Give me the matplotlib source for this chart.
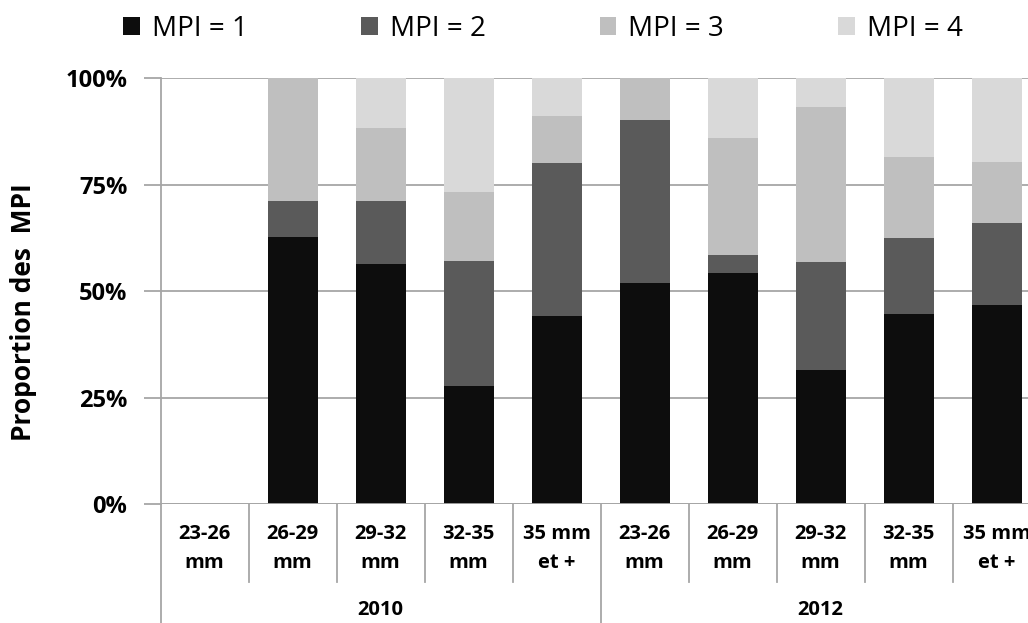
import numpy as np
import matplotlib
matplotlib.use("Agg")
import matplotlib.pyplot as plt
from matplotlib.lines import Line2D
from matplotlib.patches import Patch

plt.rcParams['font.family'] = ['Open Sans', 'DejaVu Sans']

# size classes, two years
classes = ["23-26\nmm", "26-29\nmm", "29-32\nmm", "32-35\nmm", "35 mm\net +",
           "23-26\nmm", "26-29\nmm", "29-32\nmm", "32-35\nmm", "35 mm\net +"]
years = ["2010", "2012"]

# proportions (%)
mpi1 = [0, 62.8, 56.3, 27.7, 44.2, 51.8, 54.3, 31.5, 44.6, 46.7]
mpi2 = [0, 8.3, 14.8, 29.3, 35.8, 38.3, 4.1, 25.3, 17.9, 19.2]
mpi3 = [0, 28.9, 17.3, 16.2, 11.1, 9.9, 27.6, 36.4, 19.0, 14.5]
mpi4 = [0, 0, 11.6, 26.8, 8.9, 0, 14.0, 6.8, 18.5, 19.6]

series = [mpi1, mpi2, mpi3, mpi4]
labels = ["MPI = 1", "MPI = 2", "MPI = 3", "MPI = 4"]
colors = ["#0d0d0d", "#5a5a5a", "#bfbfbf", "#d9d9d9"]
grid_c = "#a6a6a6"

W, H = 1028, 623
fig = plt.figure(figsize=(W / 100, H / 100), dpi=100)
left_px, top_px, bot_px = 160.7, 78.3, 504
ax = fig.add_axes([left_px / W, 1 - bot_px / H, 1 - left_px / W, (bot_px - top_px) / H])

x = np.arange(len(classes))
bottom = np.zeros(len(classes))
for vals, lab, col in zip(series, labels, colors):
    ax.bar(x, vals, width=0.57, bottom=bottom, color=col, label=lab, zorder=3)
    bottom += np.array(vals)

# the chart is cropped on the right, the last class is only partly visible
cat_px = 88.0
ax.set_xlim(-0.5, -0.5 + (W - left_px) / cat_px)
ax.set_ylim(0, 100)
ax.set_yticks([0, 25, 50, 75, 100])
ax.set_yticklabels(["0%", "25%", "50%", "75%", "100%"], fontsize=17, fontweight="bold")
ax.yaxis.grid(True, color=grid_c, linewidth=1.3, zorder=0)
ax.tick_params(axis="y", length=12, width=1.3, color=grid_c, pad=12)
ax.set_xticks([])
for s in ["top", "right", "bottom"]:
    ax.spines[s].set_visible(False)
ax.spines["left"].set_color(grid_c)
ax.spines["left"].set_linewidth(1.3)
ax.axhline(0, color=grid_c, linewidth=1.3, zorder=4)

fig.text(24 / W, 1 - 312 / H, "Proportion des  MPI", rotation=90, ha="center",
         va="center", fontsize=19, fontweight="bold")

# category labels and separators under the axis
trans = ax.get_xaxis_transform()
px_h = (bot_px - top_px)
for i, c in enumerate(classes):
    top_line, bot_line = c.split("\n")
    ax.text(i, -(534 - bot_px) / px_h, top_line, transform=trans, ha="center",
            va="center", fontsize=14.5, fontweight="bold")
    ax.text(i, -(563 - bot_px) / px_h, bot_line, transform=trans, ha="center",
            va="center", fontsize=14.5, fontweight="bold")
for b in np.arange(-0.5, len(classes), 1.0):
    y_end = -(H - bot_px) / px_h if b in (-0.5, 4.5) else -(582 - bot_px) / px_h
    ax.add_line(Line2D([b, b], [0, y_end], transform=trans, color=grid_c,
                       linewidth=1.3, clip_on=False))
for j, yr in enumerate(years):
    ax.text(2 + 5 * j, -(610 - bot_px) / px_h, yr, transform=trans, ha="center",
            va="center", fontsize=14.5, fontweight="bold")

handles = [Patch(facecolor=c) for c in colors]
fig.legend(handles, labels, loc="center left", bbox_to_anchor=(123 / W, 1 - 29 / H),
           ncol=4, frameon=False, fontsize=20, handlelength=0.6, handleheight=0.6,
           handletextpad=0.43, columnspacing=4.1, borderpad=0, borderaxespad=0)

fig.savefig("out.png", dpi=100)
